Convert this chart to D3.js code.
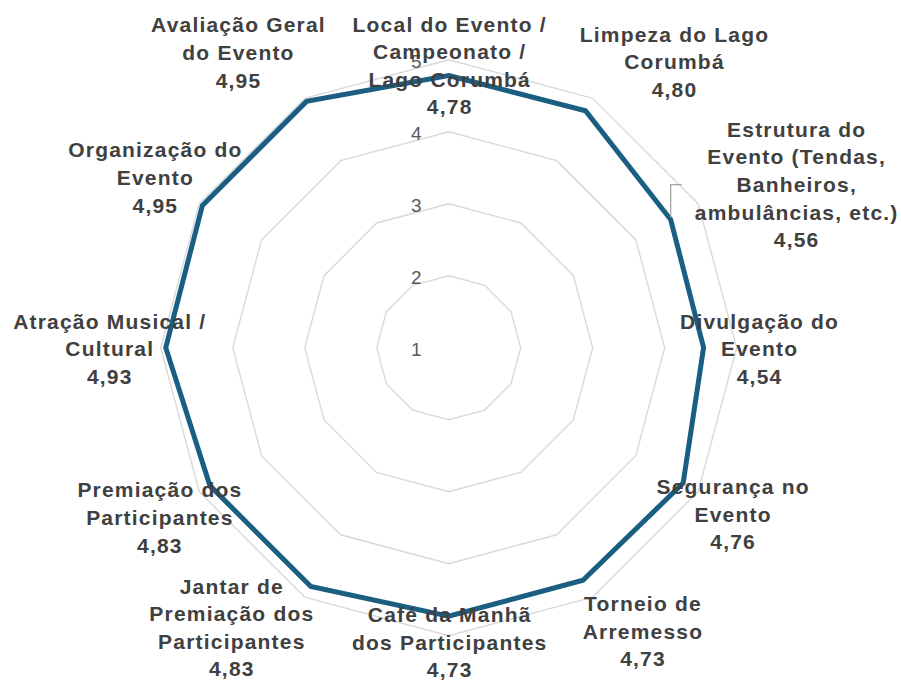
<!DOCTYPE html>
<html><head><meta charset="utf-8">
<script src="https://cdn.jsdelivr.net/npm/d3@7"></script>
<style>body{margin:0;background:#fff}svg{display:block}</style>
</head><body>
<svg id="chart" width="901" height="680"></svg>
<script>
const categories = [
  ["Local do Evento /","Campeonato /","Lago Corumbá"],
  ["Limpeza do Lago","Corumbá"],
  ["Estrutura do","Evento (Tendas,","Banheiros,","ambulâncias, etc.)"],
  ["Divulgação do","Evento"],
  ["Segurança no","Evento"],
  ["Torneio de","Arremesso"],
  ["Café da Manhã","dos Participantes"],
  ["Jantar de","Premiação dos","Participantes"],
  ["Premiação dos","Participantes"],
  ["Atração Musical /","Cultural"],
  ["Organização do","Evento"],
  ["Avaliação Geral","do Evento"]
];
const values = [4.78, 4.80, 4.56, 4.54, 4.76, 4.73, 4.73, 4.83, 4.83, 4.93, 4.95, 4.95];
const valueLabels = ["4,78","4,80","4,56","4,54","4,76","4,73","4,73","4,83","4,83","4,93","4,95","4,95"];
const tickValues = [1, 2, 3, 4, 5];
const gridValues = [2, 3, 4, 5];
// label block centre offsets relative to each data point
const labelDx = [1, 89, 126, 56, 50, 60, 1, -79, -50, -56, -47, -68];
const labelDy = [-10, -49, -35, 1, 31, 51, 26, 41, 32, 1, -28, -49];
const leader = [false, false, true, false, false, false, false, false, false, false, false, false];

const svg = d3.select("#chart");
const cx = 448.7, cy = 347.7;
const r = d3.scaleLinear().domain([1, 5]).range([0, 288]);
const n = categories.length;
const ang = d3.scaleLinear().domain([0, n]).range([0, 2 * Math.PI]);
const pt = (i, v) => [cx + r(v) * Math.sin(ang(i)), cy - r(v) * Math.cos(ang(i))];

const g = svg.append("g");
// grid rings
const ringLine = d3.line().curve(d3.curveLinearClosed);
g.selectAll("path.ring").data(gridValues).join("path")
  .attr("class", "ring")
  .attr("d", v => ringLine(d3.range(n).map(i => pt(i, v))))
  .attr("fill", "none").attr("stroke", "#d9d9d9").attr("stroke-width", 1.4);

// tick labels
g.selectAll("text.tick").data(tickValues).join("text")
  .attr("class", "tick")
  .attr("x", cx - 27).attr("y", v => cy - r(v) + 8)
  .attr("text-anchor", "end")
  .attr("font-family", "Liberation Sans, Arial, sans-serif")
  .attr("font-size", 19).attr("fill", "#595959")
  .text(v => v);

// data polygon
g.append("path")
  .attr("d", ringLine(values.map((v, i) => pt(i, v))))
  .attr("fill", "none").attr("stroke", "#1a5e82").attr("stroke-width", 5)
  .attr("stroke-linejoin", "miter");

// leader lines
values.forEach((v, i) => {
  if (!leader[i]) return;
  const [x, y] = pt(i, v);
  const ly = y + labelDy[i];
  g.append("path")
    .attr("d", d3.line()([[x + 11, ly], [x, ly], [x, y - 2]]))
    .attr("fill", "none").attr("stroke", "#a6a6a6").attr("stroke-width", 1.3);
});

// data labels
const lh = 27.6;
values.forEach((v, i) => {
  const [x, y] = pt(i, v);
  const lines = categories[i].concat([valueLabels[i]]);
  const lx = x + labelDx[i], lyc = y + labelDy[i];
  const y0 = lyc - (lines.length - 1) * lh / 2;
  const t = g.append("text")
    .attr("text-anchor", "middle")
    .attr("font-family", "Liberation Sans, Arial, sans-serif")
    .attr("font-weight", "bold").attr("font-size", 21)
    .attr("letter-spacing", 1.2)
    .attr("fill", "#404040");
  lines.forEach((s, k) => {
    t.append("tspan").attr("x", lx).attr("y", y0 + k * lh + 7.5).text(s);
  });
});
</script>
</body></html>
